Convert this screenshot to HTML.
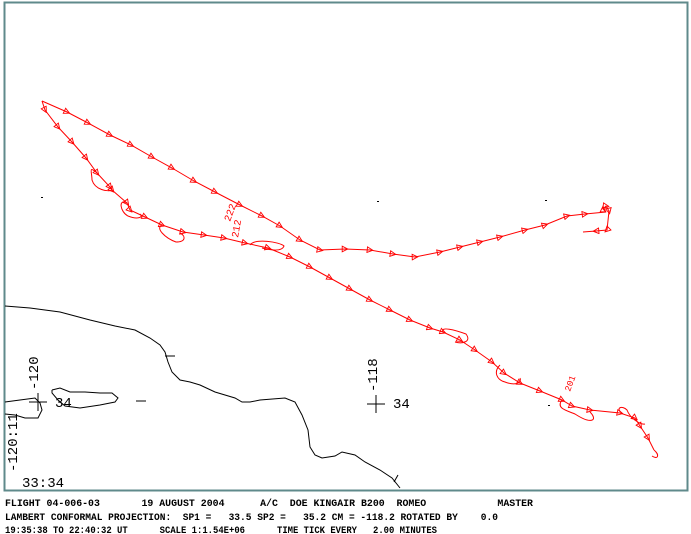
<!DOCTYPE html>
<html><head><meta charset="utf-8"><style>
html,body{margin:0;padding:0;background:#fff;}
svg{display:block}
text{font-family:"Liberation Mono",monospace;}
</style></head><body>
<svg width="691" height="534" viewBox="0 0 691 534" xmlns="http://www.w3.org/2000/svg">
<defs>
<marker id="t" viewBox="0 0 10 10" refX="5" refY="5" markerWidth="7" markerHeight="7" orient="auto" markerUnits="userSpaceOnUse">
<path d="M1,1 L9,5 L1,9 Z" fill="none" stroke="#f00" stroke-width="1.3"/>
</marker>
</defs>
<rect x="0" y="0" width="691" height="534" fill="#fff"/>
<rect x="4.5" y="2.5" width="683" height="488" fill="none" stroke="#5f8a8b" stroke-width="2"/>
<polyline fill="none" stroke="#000" stroke-width="1" points="5,306 30,308 60,312 90,320 115,326 135,330 150,338 160,345 165,352 168,362 172,372 180,380 190,382 200,385 215,392 235,398 242,402 250,402 260,400 285,398 295,402 302,415 308,430 310,447 315,455 322,458 335,456 342,452 355,455 365,462 380,470 392,478 400,488"/>
<polyline fill="none" stroke="#000" stroke-width="1" points="5,402 20,400 35,398 40,403 42,410 38,418 25,418 15,415 5,414"/>
<polyline fill="none" stroke="#000" stroke-width="1" points="52,390 60,388 70,392 85,392 100,393 112,393 118,398 115,402 100,405 80,408 65,406 58,400 52,393 52,390"/>
<line x1="165" y1="356" x2="175" y2="356" stroke="#000"/>
<line x1="136" y1="401" x2="146" y2="401" stroke="#000"/>
<line x1="394" y1="482" x2="398" y2="475" stroke="#000"/>
<polyline fill="none" stroke="#f00" stroke-width="1" marker-mid="url(#t)" points="42,101 67,112 88,123 110,135 131,145 152,157 172,168 194,181 215,192 240,205 262,216 280,226 300,240 320,250 345,249 370,250 393,254 415,257 440,252 460,247 480,242 500,237 525,230 545,225 567,216 585,214 606,212"/>
<polyline fill="none" stroke="#f00" stroke-width="1" marker-mid="url(#t)" points="606,212 603,209 606,206 609,211 607,230 596,231 583,232"/>
<polyline fill="none" stroke="#f00" stroke-width="1" marker-mid="url(#t)" points="42,101 45,110 58,127 72,142 86,158 97,173 110,187 112,190 127,203 130,210 145,217 162,225 183,232 204,235 224,238 245,243 268,248 290,257 310,267 330,278 350,289 370,300 390,310 410,320 430,328 443,332 460,340 475,350 492,362 504,373 520,383 540,391 562,400 572,406 590,410 620,413 635,418 640,426 648,438 654,450"/>
<path d="M97,173 C88,165 92,172 92,180 C95,190 108,192 112,190" fill="none" stroke="#f00"/>
<path d="M127,203 C118,198 120,212 128,216 C138,220 144,217 140,214" fill="none" stroke="#f00"/>
<path d="M162,225 C155,228 165,238 176,242 C186,242 186,236 180,233" fill="none" stroke="#f00"/>
<path d="M250,245 C255,238 280,242 284,246 C282,252 270,250 262,248" fill="none" stroke="#f00"/>
<path d="M443,332 C440,326 455,330 466,334 C472,342 462,344 455,342" fill="none" stroke="#f00"/>
<path d="M500,365 C493,372 497,380 505,382 C515,386 522,383 520,378" fill="none" stroke="#f00"/>
<path d="M562,400 C556,408 565,410 575,414 C592,425 598,420 590,412" fill="none" stroke="#f00"/>
<path d="M622,413 C615,408 622,405 627,410 C630,418 640,425 645,424" fill="none" stroke="#f00"/>
<path d="M654,450 C660,455 658,460 652,456" fill="none" stroke="#f00"/>
<text x="230" y="222" font-size="10" fill="#f00" transform="rotate(-70 230 222)">222</text>
<text x="238" y="238" font-size="10" fill="#f00" transform="rotate(-80 238 238)">212</text>
<text x="570" y="392" font-size="9" fill="#f00" transform="rotate(-70 570 392)">201</text>
<rect x="41" y="197" width="2" height="1" fill="#000"/>
<rect x="377" y="201" width="2" height="1" fill="#000"/>
<rect x="545" y="200" width="2" height="1" fill="#000"/>
<rect x="548" y="405" width="2" height="1" fill="#000"/>
<g stroke="#000" stroke-width="1">
<line x1="29" y1="402" x2="47" y2="402"/><line x1="38" y1="393" x2="38" y2="411"/>
<line x1="367" y1="404" x2="385" y2="404"/><line x1="376" y1="395" x2="376" y2="413"/>
</g>
<text x="55" y="407" font-size="14" font-family="Liberation Sans" fill="#000">34</text>
<text x="393" y="408" font-size="14" font-family="Liberation Sans" fill="#000">34</text>
<text x="38" y="390" font-size="14" font-family="Liberation Sans" fill="#000" transform="rotate(-90 38 390)">-120</text>
<text x="377" y="392" font-size="14" font-family="Liberation Sans" fill="#000" transform="rotate(-90 377 392)">-118</text>
<text x="17" y="472" font-size="14" font-family="Liberation Sans" fill="#000" transform="rotate(-90 17 472)">-120:11</text>
<text x="22" y="487" font-size="14" font-family="Liberation Sans" fill="#000">33:34</text>
<g font-size="10" fill="#000" font-weight="bold">
<text x="5" y="506" xml:space="preserve" textLength="528" lengthAdjust="spacingAndGlyphs">FLIGHT 04-006-03       19 AUGUST 2004      A/C  DOE KINGAIR B200  ROMEO            MASTER</text>
<text x="5" y="520" xml:space="preserve" textLength="493" lengthAdjust="spacingAndGlyphs">LAMBERT CONFORMAL PROJECTION:  SP1 =   33.5 SP2 =   35.2 CM = -118.2 ROTATED BY    0.0</text>
<text x="5" y="533" xml:space="preserve" textLength="432" lengthAdjust="spacingAndGlyphs">19:35:38 TO 22:40:32 UT      SCALE 1:1.54E+06      TIME TICK EVERY   2.00 MINUTES</text>
</g>
</svg>
</body></html>
